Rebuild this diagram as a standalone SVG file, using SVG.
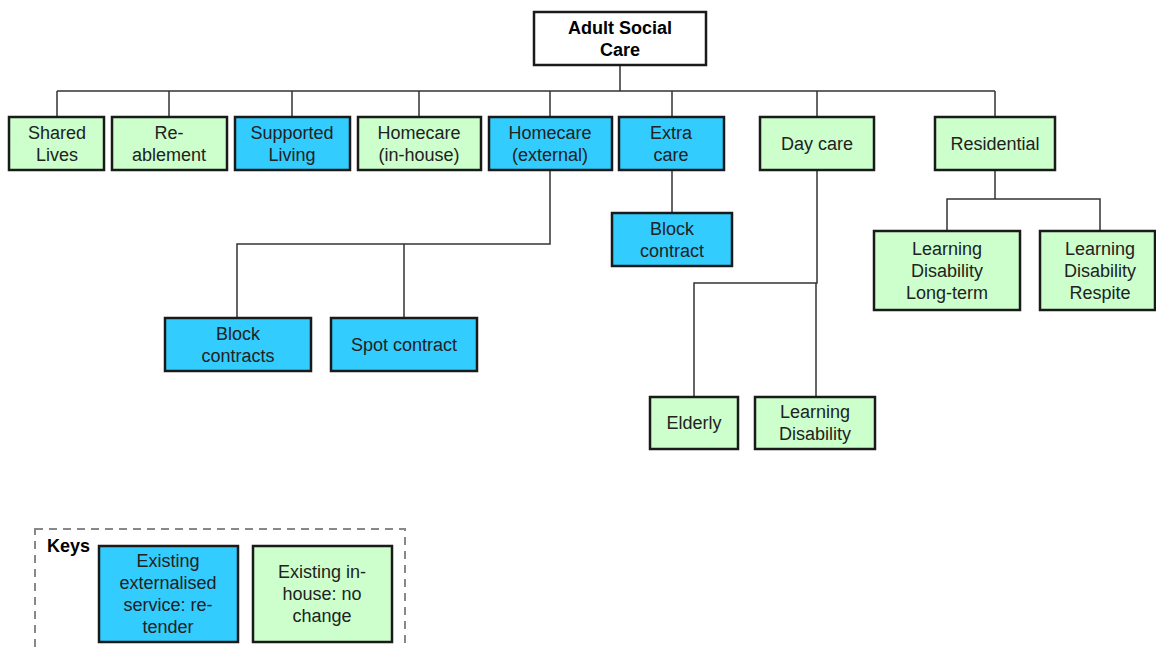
<svg xmlns="http://www.w3.org/2000/svg" width="1156" height="647" viewBox="0 0 1156 647">
<style>
.box{stroke:#1a1a1a;stroke-width:2.5}
.g{fill:#ccffcc}
.b{fill:#33ccff}
.w{fill:#ffffff}
text{font-family:"Liberation Sans",Arial,sans-serif;font-size:18px;fill:#222;text-anchor:middle}
.bold{font-weight:bold;fill:#000}
.conn{fill:none;stroke:#333;stroke-width:1.5}
</style>
<rect width="1156" height="647" fill="#fff"/>
<g id="connectors" class="conn">
<path d="M620 65V91M57 91H995M57 91V117M169 91V117M292 91V117M419 91V117M550 91V117M672 91V117M817 91V117M995 91V117"/>
<path d="M550 170V244H237V318M404 244V318"/>
<path d="M672 170V213"/>
<path d="M817 170V283H694V397M816 283V397"/>
<path d="M995 170V199H947V231M947 199H1100V231"/>
</g>
<g id="root"><rect class="box w" x="534" y="12" width="172" height="53"/><text class="bold" x="620" y="34">Adult Social</text><text class="bold" x="620" y="56">Care</text></g>
<g id="shared-lives"><rect class="box g" x="9" y="117" width="95" height="53"/><text x="57" y="139">Shared</text><text x="57" y="161">Lives</text></g>
<g id="reablement"><rect class="box g" x="112" y="117" width="115" height="53"/><text x="169" y="139">Re-</text><text x="169" y="161">ablement</text></g>
<g id="supported-living"><rect class="box b" x="235" y="117" width="115" height="53"/><text x="292" y="139">Supported</text><text x="292" y="161">Living</text></g>
<g id="homecare-inhouse"><rect class="box g" x="358" y="117" width="123" height="53"/><text x="419" y="139">Homecare</text><text x="419" y="161">(in-house)</text></g>
<g id="homecare-external"><rect class="box b" x="489" y="117" width="123" height="53"/><text x="550" y="139">Homecare</text><text x="550" y="161">(external)</text></g>
<g id="extra-care"><rect class="box b" x="619" y="117" width="105" height="53"/><text x="671" y="139">Extra</text><text x="671" y="161">care</text></g>
<g id="day-care"><rect class="box g" x="760" y="117" width="114" height="53"/><text x="817" y="150">Day care</text></g>
<g id="residential"><rect class="box g" x="935" y="117" width="120" height="53"/><text x="995" y="150">Residential</text></g>
<g id="block-contract"><rect class="box b" x="612" y="213" width="120" height="53"/><text x="672" y="235">Block</text><text x="672" y="257">contract</text></g>
<g id="block-contracts"><rect class="box b" x="165" y="318" width="146" height="53"/><text x="238" y="340">Block</text><text x="238" y="362">contracts</text></g>
<g id="spot-contract"><rect class="box b" x="331" y="318" width="146" height="53"/><text x="404" y="351">Spot contract</text></g>
<g id="elderly"><rect class="box g" x="650" y="397" width="88" height="52"/><text x="694" y="429">Elderly</text></g>
<g id="ld-day"><rect class="box g" x="755" y="397" width="120" height="52"/><text x="815" y="418">Learning</text><text x="815" y="440">Disability</text></g>
<g id="ld-longterm"><rect class="box g" x="874" y="231" width="146" height="79"/><text x="947" y="255">Learning</text><text x="947" y="277">Disability</text><text x="947" y="299">Long-term</text></g>
<g id="ld-respite"><rect class="box g" x="1040" y="231" width="115" height="79"/><text x="1100" y="255">Learning</text><text x="1100" y="277">Disability</text><text x="1100" y="299">Respite</text></g>
<g id="legend">
<rect x="35" y="529" width="370" height="130" fill="none" stroke="#888" stroke-width="2" stroke-dasharray="8 6"/>
<text class="bold" x="47" y="552" style="text-anchor:start">Keys</text>
<rect class="box b" x="99" y="546" width="139" height="96"/>
<text x="168" y="567">Existing</text><text x="168" y="589">externalised</text><text x="168" y="611">service: re-</text><text x="168" y="633">tender</text>
<rect class="box g" x="253" y="546" width="139" height="96"/>
<text x="322" y="578">Existing in-</text><text x="322" y="600">house: no</text><text x="322" y="622">change</text>
</g>
</svg>
